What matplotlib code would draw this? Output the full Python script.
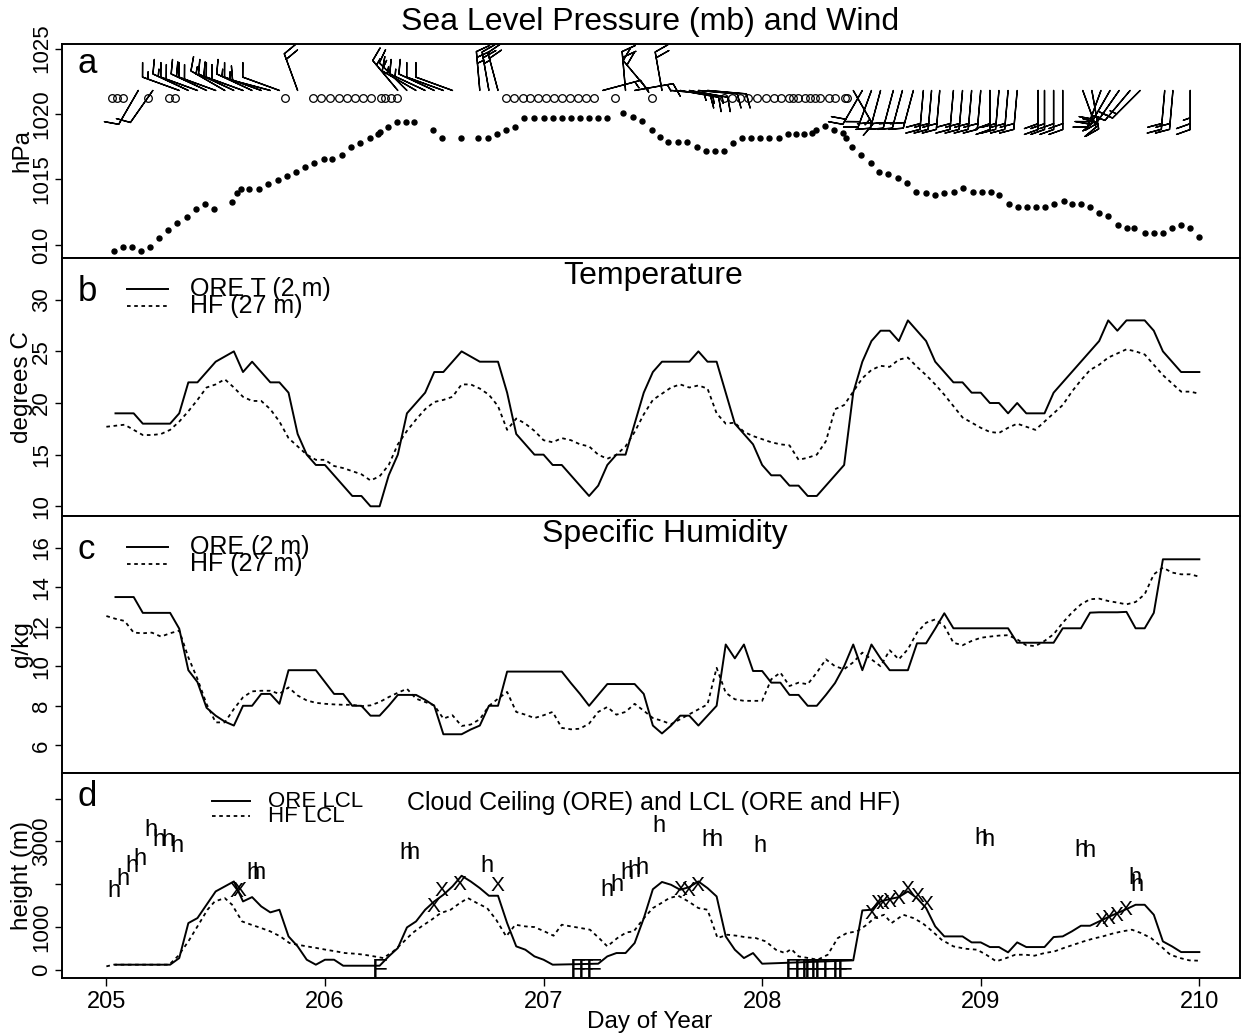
import numpy as np
import matplotlib
matplotlib.use("Agg")
import matplotlib.pyplot as plt

plt.rcParams['font.family'] = ['Liberation Sans', 'DejaVu Sans']

# ---- data (hours after day 205.0) ----
ore_hours = np.arange(1, 121)
hf_hours = np.arange(0, 121)

ore_temp = [19, 19, 19, 18, 18, 18, 18, 19, 22, 22,
            23, 24, 24.5, 25, 23, 24, 23, 22, 22, 21,
            17, 15, 14, 14, 13, 12, 11, 11, 10, 10,
            13, 15, 19, 20, 21, 23, 23, 24, 25, 24.5,
            24, 24, 24, 21, 17, 16, 15, 15, 14, 14,
            13, 12, 11, 12, 14, 15, 15, 18, 21, 23,
            24, 24, 24, 24, 25, 24, 24, 21, 18, 17,
            16, 14, 13, 13, 12, 12, 11, 11, 12, 13,
            14, 21, 24, 26, 27, 27, 26, 28, 27, 26,
            24, 23, 22, 22, 21, 21, 20, 20, 19, 20,
            19, 19, 19, 21, 22, 23, 24, 25, 26, 28,
            27, 28, 28, 28, 27, 25, 24, 23, 23, 23]

hf_temp = [17.7, 17.8, 17.9, 17.4, 16.9, 16.9, 17.0, 17.4, 18.2, 19.2,
           20.3, 21.5, 21.8, 22.3, 21.5, 20.6, 20.2, 20.2, 19.4, 18.2,
           16.6, 15.8, 15.0, 14.5, 14.5, 13.9, 13.7, 13.4, 13.1, 12.5,
           12.9, 14.0, 16.0, 17.3, 18.4, 19.4, 20.1, 20.3, 20.6, 21.8,
           21.8, 21.4, 20.8, 19.7, 17.4, 18.5, 18.0, 17.3, 16.4, 16.2,
           16.6, 16.4, 16.0, 15.8, 15.0, 14.6, 15.0, 15.8, 17.2, 18.9,
           20.3, 20.9, 21.5, 21.8, 21.5, 21.7, 21.4, 19.0, 18.0, 18.1,
           17.2, 16.8, 16.5, 16.2, 16.0, 15.9, 14.5, 14.7, 15.0, 16.3,
           19.4, 19.8, 21.1, 22.4, 23.2, 23.6, 23.5, 24.2, 24.4, 23.5,
           22.7, 21.8, 20.8, 19.7, 18.6, 18.1, 17.6, 17.2, 17.1, 17.6,
           18.0, 17.7, 17.4, 18.2, 19.0, 19.8, 21.1, 22.2, 23.2, 23.7,
           24.4, 24.8, 25.2, 25.0, 24.7, 23.7, 22.7, 21.9, 21.1, 21.1, 20.9]

ore_q = [13.5, 13.5, 13.5, 12.7, 12.7, 12.7, 12.7, 11.9, 9.8, 9.2,
         7.9, 7.5, 7.2, 7.0, 8.0, 8.0, 8.6, 8.6, 8.1, 9.8,
         9.8, 9.8, 9.8, 9.2, 8.6, 8.6, 8.0, 8.0, 7.5, 7.5,
         8.0, 8.55, 8.55, 8.55, 8.3, 8.0, 6.56, 6.56, 6.56, 6.8,
         7.0, 8.0, 8.0, 9.73, 9.73, 9.73, 9.73, 9.73, 9.73, 9.73,
         9.15, 8.6, 8.0, 8.55, 9.1, 9.1, 9.1, 9.1, 8.6, 7.0,
         6.6, 7.0, 7.5, 7.5, 7.0, 7.5, 8.0, 11.1, 10.4, 11.1,
         9.76, 9.76, 9.17, 9.17, 8.55, 8.55, 8.0, 8.0, 8.55, 9.15,
         10.0, 11.1, 9.8, 11.1, 10.4, 9.8, 9.8, 9.8, 11.16, 11.16,
         11.9, 12.68, 11.92, 11.92, 11.92, 11.92, 11.92, 11.92, 11.92, 11.19,
         11.19, 11.19, 11.19, 11.19, 11.92, 11.92, 11.92, 12.71, 12.73, 12.73,
         12.73, 12.75, 11.92, 11.92, 12.7, 15.41, 15.41, 15.41, 15.41, 15.41]

hf_q = [12.54, 12.4, 12.29, 11.7, 11.67, 11.7, 11.5, 11.67, 11.8, 10.45,
        9.36, 8.09, 7.16, 7.16, 7.84, 8.43, 8.73, 8.76, 8.76, 8.6,
        8.93, 8.52, 8.27, 8.15, 8.1, 8.07, 8.05, 8.05, 7.98, 8.02,
        8.19, 8.44, 8.66, 8.86, 8.36, 8.19, 8.02, 7.35, 7.52, 6.98,
        7.05, 7.32, 7.99, 8.36, 8.7, 7.69, 7.55, 7.38, 7.52, 7.69,
        6.88, 6.81, 6.84, 7.1, 7.69, 7.94, 7.55, 7.69, 8.1, 7.75,
        7.38, 7.24, 7.07, 7.32, 7.57, 7.82, 8.07, 9.92, 8.66, 8.33,
        8.25, 8.25, 8.25, 9.34, 9.68, 9.0, 9.17, 9.09, 9.68, 10.35,
        10.0, 9.85, 10.2, 10.69, 10.35, 10.0, 10.81, 10.35, 10.86, 11.7,
        12.2, 12.37, 12.03, 11.19, 11.06, 11.28, 11.44, 11.5, 11.55, 11.57,
        11.36, 11.06, 11.02, 11.28, 11.62, 12.2, 12.71, 13.13, 13.39, 13.42,
        13.3, 13.22, 13.13, 13.25, 13.64, 14.65, 14.99, 14.74, 14.65, 14.65, 14.53]

slp_hours = [0.8, 1.8, 2.8, 3.8, 4.8, 5.8, 6.8, 7.8, 8.8, 9.8, 10.8, 11.8, 13.8, 14.3,
             14.8, 15.7, 16.8, 17.8, 18.8, 19.8, 20.8, 21.8, 22.8, 23.9, 24.8, 25.9,
             26.9, 27.8, 28.9, 29.8, 30.0, 30.9, 31.9, 32.9, 33.8, 35.9, 36.9, 38.9,
             40.8, 41.9, 42.9, 43.9, 44.9, 45.9, 47.0, 48.0, 49.0, 50.0, 51.0, 52.0,
             53.0, 54.0, 55.0, 56.7, 57.8, 58.8, 59.9, 60.8, 61.7, 62.8, 63.8, 64.8,
             65.8, 66.8, 67.8, 68.8, 69.8, 70.8, 71.8, 72.7, 73.9, 74.8, 75.7, 76.6,
             77.5, 77.9, 78.9, 79.9, 80.9, 81.2, 81.9, 82.9, 84.0, 84.8, 85.8, 86.9,
             87.9, 88.9, 90.0, 91.0, 92.0, 93.1, 94.1, 95.1, 96.1, 97.1, 98.0, 99.1,
             100.1, 101.1, 102.1, 103.0, 104.0, 105.1, 106.0, 107.0, 108.0, 109.0,
             110.0, 111.1, 112.1, 112.8, 114.0, 115.0, 116.0, 117.0, 118.0, 119.0, 120.0]
slp = [1009.57, 1009.87, 1009.87, 1009.57, 1009.87, 1010.51, 1011.15, 1011.7, 1012.1,
       1012.75, 1013.1, 1012.75, 1013.3, 1013.95, 1014.25, 1014.25, 1014.25, 1014.66,
       1014.96, 1015.3, 1015.6, 1015.93, 1016.24, 1016.54, 1016.54, 1016.87, 1017.46,
       1017.81, 1018.14, 1018.47, 1018.65, 1019.03, 1019.41, 1019.41, 1019.41, 1018.78,
       1018.14, 1018.14, 1018.14, 1018.14, 1018.47, 1018.78, 1019.03, 1019.67, 1019.67,
       1019.67, 1019.67, 1019.67, 1019.67, 1019.67, 1019.67, 1019.67, 1019.67, 1020.05,
       1019.75, 1019.49, 1018.78, 1018.22, 1017.89, 1017.89, 1017.89, 1017.51, 1017.2,
       1017.2, 1017.2, 1017.81, 1018.14, 1018.14, 1018.14, 1018.14, 1018.14, 1018.47,
       1018.47, 1018.47, 1018.52, 1018.78, 1019.08, 1018.78, 1018.52, 1018.14, 1017.51,
       1016.87, 1016.28, 1015.6, 1015.42, 1015.09, 1014.71, 1014.02, 1013.95, 1013.82,
       1013.95, 1014.02, 1014.33, 1014.02, 1014.02, 1014.02, 1013.82, 1013.13, 1012.93,
       1012.93, 1012.93, 1012.93, 1013.13, 1013.38, 1013.13, 1013.13, 1012.87, 1012.47,
       1012.21, 1011.53, 1011.27, 1011.27, 1010.94, 1010.94, 1010.94, 1011.27, 1011.53,
       1011.27, 1010.59]

# wind: calm reports and barbs (direction wind blows from, speed in knots)
calm_hours = [0.6, 1.2, 1.8, 4.6, 6.9, 7.5, 19.6, 22.7, 23.6, 24.5, 25.5, 26.4, 27.3,
              28.2, 29.1, 30.1, 30.6, 31.2, 31.9, 43.9, 44.8, 45.7, 46.5, 47.4, 48.3,
              49.2, 50.0, 50.9, 51.8, 52.7, 53.5, 55.8, 59.9, 67.8, 68.7, 69.6, 70.5,
              71.4, 72.4, 73.3, 74.1, 74.9, 75.4, 75.9, 76.7, 77.3, 77.8, 78.3, 79.3,
              80.0, 81.1, 81.3]
barb_hours = [3.5, 5.1, 8, 9, 10, 11, 12, 13, 14, 15, 16, 17, 18, 19, 21,
              32, 33, 34, 35, 36, 37, 38, 41, 42, 43,
              54.5, 57, 58, 59.5, 61, 62, 63, 64, 65, 66,
              82, 83, 84, 85, 86.4, 87.4, 88.6, 89.7, 90.6, 91.5, 93, 94, 95, 96, 97,
              98, 99, 100, 102.3, 103, 104, 105, 107.2, 108.2, 109.2, 110.2, 111.2,
              112.4, 113.5, 116.2, 117.1, 119]
barb_dir = [210, 215, 290, 295, 290, 295, 290, 300, 295, 290, 295, 290, 285, 290, 340,
            320, 315, 300, 295, 295, 290, 290, 355, 350, 345,
            75, 355, 80, 320, 350, 95, 100, 100, 95, 95,
            150, 210, 200, 195, 195, 195, 195, 185, 185, 185, 185, 185, 185, 185, 180,
            185, 185, 185, 180, 180, 180, 180, 160, 170, 200, 210, 215,
            220, 225, 185, 185, 180]
barb_kt = [10, 10, 15, 15, 20, 20, 20, 15, 20, 20, 15, 15, 10, 10, 20,
           15, 15, 15, 15, 10, 10, 10, 25, 25, 20,
           15, 20, 15, 20, 20, 15, 15, 15, 10, 10,
           15, 20, 20, 20, 20, 20, 20, 20, 20, 20, 20, 20, 20, 20, 20,
           20, 20, 20, 20, 20, 20, 20, 20, 20, 20, 20, 15,
           15, 15, 20, 20, 25]

# LCL (m)
ore_lcl_hours = [1, 7, 8, 9, 10, 11, 12, 14, 15, 16, 17, 18, 19, 20, 21, 22, 23, 24, 25, 26,
                 30, 31, 32, 33, 34, 35, 36, 37, 38, 39, 40, 41, 42, 43, 44, 45, 46, 47, 48,
                 49, 54, 55, 56, 57, 58, 59, 60, 61, 62, 63, 64, 65, 66, 67, 68, 69, 70, 71,
                 72, 82, 83, 84, 85, 86, 87, 88, 89, 90, 91, 92, 94, 95, 96, 97, 98, 99, 100,
                 101, 103, 104, 105, 106, 107, 108, 109, 110, 111, 112, 113, 114, 115, 116,
                 117, 118, 120]
ore_lcl = [117, 117, 272, 1089, 1206, 1518, 1829, 2062, 1595, 1696, 1479, 1339, 1401, 778,
           545, 233, 117, 233, 233, 93, 93, 311, 506, 988, 1128, 1401, 1595, 1751, 1946,
           2195, 2062, 1907, 1728, 1728, 1089, 545, 467, 311, 233, 117, 140, 311, 389, 389,
           623, 1200, 1880, 2050, 1984, 1868, 1930, 2062, 1907, 1712, 778, 467, 272, 389,
           140, 218, 1385, 1401, 1595, 1650, 1696, 1829, 1673, 1440, 1012, 778, 778, 638,
           638, 529, 529, 405, 638, 529, 529, 763, 778, 895, 1027, 1027, 1128, 1230, 1323,
           1416, 1517, 1517, 1284, 661, 545, 412, 412]
hf_lcl_hours = [0, 0.8, 6.9, 7.9, 9.0, 10.0, 11.1, 11.9, 13.0, 13.8, 14.9, 15.9, 17.0, 18.0,
                19.1, 20.1, 21.0, 22.0, 23.1, 24.1, 25.2, 26.2, 27.3, 28.3, 29.4, 30.4, 31.5,
                32.5, 33.6, 34.6, 35.7, 36.7, 37.8, 38.8, 39.7, 40.7, 41.8, 42.8, 43.9, 44.9,
                46.0, 47.0, 48.1, 49.1, 50.0, 51.0, 52.1, 53.1, 54.2, 55.0, 56.1, 57.1, 57.9,
                59.0, 60.0, 60.8, 61.8, 62.8, 63.9, 65.0, 66.0, 67.1, 68.2, 69.2, 70.3, 71.3,
                72.4, 73.5, 74.5, 75.2, 76.0, 77.1, 78.1, 79.2, 80.3, 81.3, 82.4, 83.5, 84.3,
                85.4, 86.2, 87.5, 88.6, 89.6, 90.7, 91.7, 93.0, 94.3, 95.6, 96.6, 97.7, 98.8,
                99.8, 100.9, 101.9, 103.0, 104.1, 105.1, 106.2, 107.3, 108.3, 109.4, 110.4,
                111.5, 112.6, 113.6, 114.7, 115.8, 116.8, 117.9, 118.9, 120.0]
hf_lcl = [78, 117, 117, 327, 661, 1012, 1401, 1595, 1673, 1518, 1128, 1051, 973, 895, 778,
          623, 584, 545, 506, 467, 428, 389, 374, 350, 311, 272, 428, 623, 856, 1012, 1167,
          1323, 1401, 1556, 1673, 1556, 1440, 1167, 778, 1051, 1012, 996, 895, 794, 1051,
          1012, 973, 934, 716, 545, 739, 872, 895, 1200, 1440, 1540, 1673, 1728, 1595, 1440,
          1401, 739, 817, 794, 755, 739, 661, 467, 389, 482, 311, 272, 233, 350, 739, 856,
          895, 1051, 1206, 1284, 1089, 1284, 1206, 1089, 895, 700, 545, 490, 467, 350, 195,
          272, 350, 350, 327, 389, 428, 506, 584, 661, 724, 778, 840, 895, 934, 856, 739,
          545, 350, 272, 218, 210]

# ceiling symbols from ORE
h_hours = [0.8, 1.8, 2.8, 3.7, 4.9, 5.8, 6.8, 7.8, 16.1, 16.8, 32.9, 33.7, 41.8, 55.0,
           56.1, 57.1, 57.9, 58.8, 60.7, 66.0, 66.9, 71.8, 96.0, 96.8, 107.0, 107.9,
           112.9, 113.1]
h_height = [1829, 2117, 2412, 2584, 3253, 3035, 3035, 2895, 2257, 2257, 2724, 2724, 2412,
            1868, 1984, 2257, 2296, 2374, 3346, 3035, 3035, 2879, 3074, 3035, 2802, 2763,
            2140, 1984]
x_hours = [14.3, 14.6, 35.9, 36.8, 38.8, 42.9, 63.0, 63.9, 64.9, 84.0, 84.7, 85.2, 86.0,
           87.0, 87.9, 89.0, 90.0, 109.2, 110.0, 110.9, 111.9]
x_height = [1830, 1850, 1479, 1852, 1984, 1961, 1868, 1852, 1961, 1323, 1541, 1556, 1595,
            1673, 1868, 1712, 1518, 1128, 1206, 1261, 1401]
f_hours = [30.0, 51.8, 52.7, 53.5, 75.4, 76.4, 77.1, 77.5, 78.1, 78.6, 79.4, 80.5, 81.1]
f_height = [0] * len(f_hours)


def day(h):
    return 205 + np.asarray(h, dtype=float) / 24.0


W, H = 1247, 1034
fig = plt.figure(figsize=(W / 100, H / 100), dpi=100)


def box(top, bottom):
    return [62 / W, 1 - bottom / H, (1240 - 62) / W, (bottom - top) / H]


axa = fig.add_axes(box(44, 258))
axb = fig.add_axes(box(258, 516))
axc = fig.add_axes(box(516, 773))
axd = fig.add_axes(box(773, 978))

for ax in (axa, axb, axc, axd):
    ax.set_xlim(204.797, 210.186)
    for s in ax.spines.values():
        s.set_linewidth(1.4)
    ax.tick_params(axis='y', direction='out', length=5, width=1, pad=2, labelsize=16)
    ax.tick_params(axis='x', direction='out', length=6, width=1, labelsize=17)
for ax in (axa, axb, axc):
    ax.set_xticks([])

solid = dict(color='k', lw=1.4)
dashed = dict(color='k', lw=1.3, ls=(0, (2, 2)))

# ---- a: sea level pressure and wind ----
axa.set_ylim(1009.0, 1025.35)
axa.plot(day(slp_hours), slp, 'o', color='k', ms=3.6)
barb_level = 1021.8
calm_level = 1021.2
spd = np.array(barb_kt, float)
rad = np.deg2rad(barb_dir)
u = -spd * np.sin(rad)
v = -spd * np.cos(rad)
axa.barbs(day(barb_hours), np.full(len(barb_hours), barb_level), u, v,
          length=7.5, linewidth=1.0, color='k', pivot='tip',
          sizes=dict(spacing=0.15, height=0.35, width=0.25))
axa.plot(day(calm_hours), np.full(len(calm_hours), calm_level), 'o',
         mfc='none', mec='k', ms=5.5, mew=0.9)
axa.set_yticks([1010, 1015, 1020, 1025])
axa.set_yticklabels(['010', '1015', '1020', '1025'], rotation=90, va='center')
axa.text(0.013, 0.865, 'a', transform=axa.transAxes, fontsize=25, va='baseline')

# ---- b: temperature ----
axb.set_ylim(9.06, 34.04)
axb.plot(day(ore_hours), ore_temp, **solid)
axb.plot(day(hf_hours), hf_temp, **dashed)
axb.set_yticks([10, 15, 20, 25, 30])
axb.set_yticklabels(['10', '15', '20', '25', '30'], rotation=90, va='center')
axb.text(0.013, 0.833, 'b', transform=axb.transAxes, fontsize=25, va='baseline')
axb.text(0.502, 0.899, 'Temperature', transform=axb.transAxes, fontsize=23,
         ha='center', va='baseline')
axb.plot([0.055, 0.090], [0.880, 0.880], transform=axb.transAxes, **solid)
axb.plot([0.055, 0.090], [0.815, 0.815], transform=axb.transAxes, **dashed)
axb.text(0.109, 0.852, 'ORE T (2 m)', transform=axb.transAxes, fontsize=18, va='baseline')
axb.text(0.109, 0.787, 'HF (27 m)', transform=axb.transAxes, fontsize=18, va='baseline')

# ---- c: specific humidity ----
axc.set_ylim(4.6, 17.6)
axc.plot(day(ore_hours), ore_q, **solid)
axc.plot(day(hf_hours), hf_q, **dashed)
axc.set_yticks([6, 8, 10, 12, 14, 16])
axc.set_yticklabels(['6', '8', '10', '12', '14', '16'], rotation=90, va='center')
axc.text(0.013, 0.833, 'c', transform=axc.transAxes, fontsize=25, va='baseline')
axc.text(0.512, 0.899, 'Specific Humidity', transform=axc.transAxes, fontsize=23,
         ha='center', va='baseline')
axc.plot([0.055, 0.090], [0.880, 0.880], transform=axc.transAxes, **solid)
axc.plot([0.055, 0.090], [0.815, 0.815], transform=axc.transAxes, **dashed)
axc.text(0.109, 0.852, 'ORE (2 m)', transform=axc.transAxes, fontsize=18, va='baseline')
axc.text(0.109, 0.787, 'HF (27 m)', transform=axc.transAxes, fontsize=18, va='baseline')

# ---- d: cloud ceiling and LCL ----
axd.set_ylim(-194, 4596)
axd.plot(day(ore_lcl_hours), ore_lcl, **solid)
axd.plot(day(hf_lcl_hours), hf_lcl, **dashed)
for hx, hy in zip(day(h_hours), h_height):
    axd.text(hx, hy, 'h', ha='center', va='center', fontsize=17)
for hx, hy in zip(day(x_hours), x_height):
    axd.text(hx, hy, 'X', ha='center', va='center', fontsize=15)
for hx, hy in zip(day(f_hours), f_height):
    axd.text(hx, hy, 'F', ha='center', va='center', fontsize=19)
axd.set_yticks([0, 1000, 2000, 3000, 4000])
axd.set_yticklabels(['0', '1000', '', '3000', ''], rotation=90, va='center')
axd.set_xticks([205, 206, 207, 208, 209, 210])
axd.text(0.013, 0.84, 'd', transform=axd.transAxes, fontsize=25, va='baseline')
axd.text(0.502, 0.82, 'Cloud Ceiling (ORE) and LCL (ORE and HF)', transform=axd.transAxes,
         fontsize=18, ha='center', va='baseline')
axd.plot([0.127, 0.160], [0.865, 0.865], transform=axd.transAxes, **solid)
axd.plot([0.127, 0.160], [0.790, 0.790], transform=axd.transAxes, **dashed)
axd.text(0.175, 0.835, 'ORE LCL', transform=axd.transAxes, fontsize=16, va='baseline')
axd.text(0.175, 0.760, 'HF LCL', transform=axd.transAxes, fontsize=16, va='baseline')

fig.text(650 / W, 1 - 30 / H, 'Sea Level Pressure (mb) and Wind', ha='center',
         va='baseline', fontsize=23)
fig.text(650 / W, 1 - 1028 / H, 'Day of Year', ha='center', va='baseline', fontsize=17.5)
for label, yc in (('hPa', 151), ('degrees C', 387), ('g/kg', 644), ('height (m)', 875)):
    fig.text(22 / W, 1 - yc / H, label, rotation=90, ha='center', va='center', fontsize=17.5)

fig.savefig('out.png', dpi=100)
